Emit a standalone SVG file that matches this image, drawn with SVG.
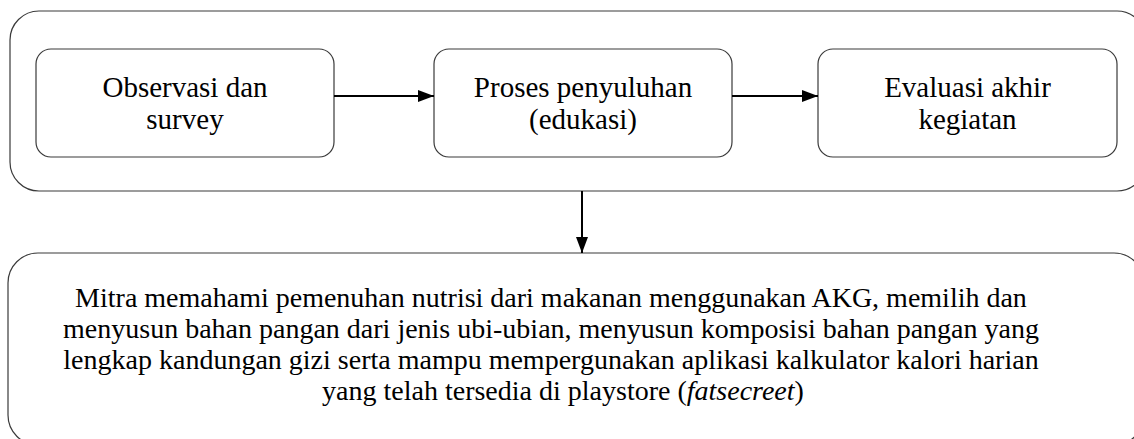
<svg xmlns="http://www.w3.org/2000/svg" width="1134" height="439" viewBox="0 0 1134 439">
<style>
.box{fill:#fff;stroke:#3a3a3a;stroke-width:1.2}
.t{font-family:"Liberation Serif","Times New Roman",serif;font-size:29px;fill:#000;text-anchor:middle}
.b{font-family:"Liberation Serif","Times New Roman",serif;font-size:28px;fill:#000;text-anchor:middle}
.c{stroke:#000;stroke-width:2;fill:none}
</style>
<defs>
<marker id="ah" markerWidth="16" markerHeight="12" refX="16" refY="6" orient="auto" markerUnits="userSpaceOnUse">
<path d="M0,0 L16,6 L0,12 Z" fill="#000"/>
</marker>
</defs>
<rect width="1134" height="439" fill="#fff"/>
<g id="container">
<rect class="box" x="10" y="11" width="1136" height="180" rx="29" ry="29"/>
</g>
<g id="observasi">
<rect class="box" x="36" y="49" width="298" height="108" rx="15" ry="15"/>
<text class="t" x="185" y="97">Observasi dan</text>
<text class="t" x="185" y="129">survey</text>
</g>
<g id="penyuluhan">
<rect class="box" x="434" y="49" width="298" height="108" rx="15" ry="15"/>
<text class="t" x="583" y="97">Proses penyuluhan</text>
<text class="t" x="583" y="129">(edukasi)</text>
</g>
<g id="evaluasi">
<rect class="box" x="818" y="49" width="299" height="108" rx="15" ry="15"/>
<text class="t" x="967.5" y="97">Evaluasi akhir</text>
<text class="t" x="967.5" y="129">kegiatan</text>
</g>
<g id="hasil">
<rect class="box" x="8" y="253" width="1136" height="192" rx="30" ry="30"/>
<text class="b" x="551" y="307"> Mitra memahami pemenuhan nutrisi dari makanan menggunakan AKG, memilih dan</text>
<text class="b" x="551" y="338">menyusun bahan pangan dari jenis ubi-ubian, menyusun komposisi bahan pangan yang</text>
<text class="b" x="551" y="369">lengkap kandungan gizi serta mampu mempergunakan aplikasi kalkulator kalori harian</text>
<text class="b" x="563" y="400">yang telah tersedia di playstore (<tspan font-style="italic">fatsecreet</tspan>)</text>
</g>
<g id="connectors">
<line class="c" x1="334" y1="96" x2="434" y2="96" marker-end="url(#ah)"/>
<line class="c" x1="732" y1="96" x2="818" y2="96" marker-end="url(#ah)"/>
<line class="c" x1="582" y1="191" x2="582" y2="253" marker-end="url(#ah)"/>
</g>
</svg>
